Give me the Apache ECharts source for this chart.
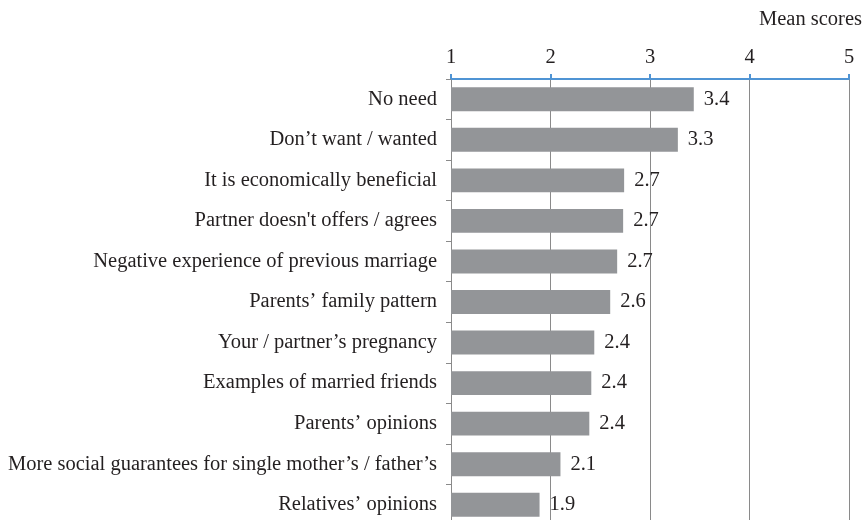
<!DOCTYPE html>
<html>
<head>
<meta charset="utf-8">
<script src="https://cdn.jsdelivr.net/npm/echarts@6/dist/echarts.min.js"></script>
<style>
  html, body { margin: 0; padding: 0; background: #fff; overflow: hidden; }
  #chart { width: 865px; height: 540px; }
</style>
</head>
<body>
<div id="chart"></div>
<script>
// Reasons, listed top to bottom
const reasons = [
  'No need',
  'Don\u2019t want / wanted',
  'It is economically beneficial',
  'Partner doesn\'t offers / agrees',
  'Negative experience of previous marriage',
  'Parents\u2019 family pattern',
  'Your / partner\u2019s pregnancy',
  'Examples of married friends',
  'Parents\u2019 opinions',
  'More social guarantees for single mother\u2019s / father\u2019s',
  'Relatives\u2019 opinions'
];
// Mean score for each reason
const meanScores = [3.44, 3.28, 2.74, 2.73, 2.67, 2.60, 2.44, 2.41, 2.39, 2.10, 1.89];
// Score scale
const scaleMin = 1;
const scaleMax = 5;
const scaleStep = 1;
const scaleTitle = 'Mean scores';

const serif = '"Liberation Serif", "DejaVu Serif", serif';
const textColor = '#231f20';
const gridGray = '#8a8a8a';
const fontPx = 20.5;

// The plot runs a little past the bottom edge of the visible page
const chart = echarts.init(document.getElementById('chart'));
chart.setOption({
  animation: false,
  backgroundColor: '#ffffff',
  grid: { left: 451, top: 79, width: 398, height: 446, containLabel: false },
  graphic: [{
    type: 'text',
    right: 3,
    top: 9,
    style: { text: scaleTitle, font: fontPx + 'px ' + serif, fill: textColor }
  }],
  xAxis: {
    type: 'value',
    position: 'top',
    min: scaleMin,
    max: scaleMax,
    interval: scaleStep,
    axisLine: { show: true, lineStyle: { color: '#4f94d4', width: 2 } },
    axisTick: { show: true, length: 5, lineStyle: { color: '#4f94d4', width: 2 } },
    axisLabel: { color: textColor, fontFamily: serif, fontSize: fontPx, margin: 11 },
    splitLine: { show: true, lineStyle: { color: gridGray, width: 1 } }
  },
  yAxis: {
    type: 'category',
    data: reasons,
    inverse: true,
    axisLine: { show: true, lineStyle: { color: gridGray, width: 1 } },
    axisTick: { show: true, length: 5, lineStyle: { color: gridGray } },
    axisLabel: { color: textColor, fontFamily: serif, fontSize: fontPx, margin: 14 },
    splitLine: { show: false }
  },
  series: [{
    type: 'bar',
    data: meanScores,
    barWidth: '59%',
    itemStyle: { color: '#939598' },
    label: {
      show: true,
      position: 'right',
      distance: 10,
      color: textColor,
      fontFamily: serif,
      fontSize: fontPx,
      formatter: p => p.value.toFixed(1)
    }
  }]
});
</script>
</body>
</html>
